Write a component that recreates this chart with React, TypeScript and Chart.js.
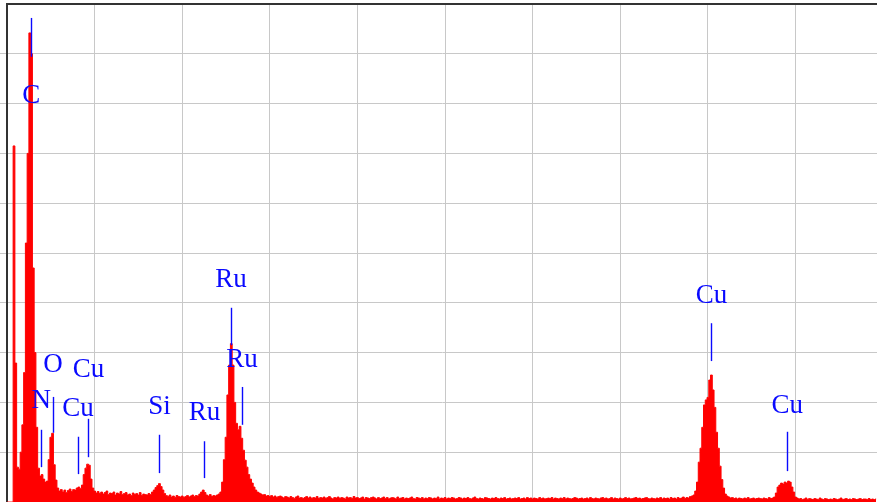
import React, { useEffect, useRef } from 'react';
import { Chart, registerables } from 'chart.js';

Chart.register(...registerables);

// EDS spectrum: counts per 0.02 keV channel, starting at 0 keV
const CHANNEL_KEV = 0.02;
const counts: number[] = [
  0, 0, 0, 0, 715, 279, 70, 66, 100, 155,
  260, 520, 700, 942, 900, 470, 300, 150, 68, 52,
  55, 46, 40, 42, 85, 130, 138, 75, 44, 28,
  22, 25, 20, 24, 19, 23, 26, 21, 25, 24,
  28, 30, 27, 34, 55, 68, 76, 74, 46, 28,
  22, 18, 21, 17, 20, 16, 19, 22, 15, 18,
  17, 20, 14, 18, 16, 21, 15, 17, 19, 14,
  16, 13, 18, 15, 17, 14, 19, 13, 16, 15,
  14, 17, 15, 20, 24, 29, 33, 37, 31, 24,
  17, 13, 11, 14, 10, 12, 9, 13, 11, 10,
  12, 9, 11, 13, 10, 12, 14, 11, 13, 12,
  16, 20, 24, 19, 14, 12, 15, 11, 13, 12,
  14, 16, 20, 40, 85, 130, 215, 275, 318, 275,
  200, 158, 145, 152, 128, 104, 84, 70, 55, 46,
  38, 30, 24, 20, 18, 16, 14, 15, 12, 13,
  11, 13, 10, 12, 9, 11, 12, 10, 8, 11,
  10, 8, 11, 9, 7, 10, 12, 8, 9, 7,
  9, 11, 8, 10, 7, 9, 8, 11, 7, 9,
  8, 10, 7, 9, 11, 8, 6, 9, 8, 10,
  7, 9, 8, 6, 10, 8, 9, 7, 11, 8,
  9, 7, 8, 10, 6, 9, 8, 7, 9, 10,
  8, 6, 9, 7, 8, 10, 7, 9, 6, 8,
  9, 8, 6, 10, 7, 8, 9, 6, 8, 7,
  8, 10, 7, 6, 9, 8, 7, 9, 6, 8,
  7, 9, 8, 6, 8, 7, 10, 6, 8, 7,
  9, 6, 8, 7, 9, 8, 6, 7, 9, 8,
  6, 8, 7, 9, 7, 6, 8, 10, 7, 6,
  8, 7, 6, 9, 8, 7, 6, 8, 7, 9,
  7, 6, 8, 7, 9, 6, 7, 8, 6, 7,
  8, 7, 9, 6, 7, 8, 6, 9, 7, 8,
  6, 8, 7, 6, 9, 7, 8, 6, 7, 8,
  7, 9, 6, 8, 7, 6, 8, 7, 9, 6,
  8, 7, 6, 7, 9, 8, 6, 7, 8, 6,
  7, 8, 6, 9, 7, 6, 8, 7, 6, 8,
  9, 7, 8, 6, 7, 9, 6, 8, 7, 6,
  8, 6, 7, 9, 7, 8, 6, 7, 8, 9,
  7, 8, 6, 7, 8, 9, 7, 6, 8, 7,
  6, 8, 7, 9, 6, 8, 7, 8, 6, 9,
  7, 8, 6, 9, 7, 8, 10, 7, 9, 8,
  11, 12, 14, 22, 40, 80, 108, 150, 195, 205,
  210, 245, 255, 225, 190, 140, 108, 72, 45, 28,
  16, 12, 10, 8, 9, 7, 8, 6, 8, 7,
  6, 8, 7, 9, 6, 7, 8, 6, 7, 8,
  7, 6, 8, 7, 6, 9, 7, 8, 10, 18,
  30, 34, 38, 36, 40, 38, 42, 40, 30, 20,
  10, 8, 6, 7, 5, 6, 8, 5, 7, 6,
  5, 7, 6, 5, 8, 6, 5, 7, 6, 5,
  6, 5, 7, 6, 5, 6, 8, 5, 6, 7,
  5, 6, 5, 7, 6, 5, 6, 7, 5, 6,
  6, 5, 7, 5, 6, 5, 6,
];

// Axis ranges
const X_MIN_KEV = 0;
const X_MAX_KEV = 9.93;
const X_STEP_KEV = 1;
const Y_MIN = 0;
const Y_MAX = 1000;
const Y_STEP = 100;

// Peak markers (element labels)
const markerLabels = ['C', 'N', 'O', 'Cu', 'Cu', 'Si', 'Ru', 'Ru', 'Ru', 'Cu', 'Cu'];
const markerKeV = [0.277, 0.392, 0.525, 0.811, 0.93, 1.74, 2.253, 2.558, 2.683, 8.04, 8.905];
const markerTop = [972, 145, 211, 131, 167, 135, 122, 390, 231, 359, 141];
const markerBottom = [894, 70, 139, 56, 90, 58, 48, 315, 155, 283, 62];
const labelLevel = [801, 189, 261, 173, 251, 177, 165, 432, 271, 400, 179];

const BLUE = '#0a0aff';
const RED = '#ff0000';
const GRID = '#c8c8c8';
const FRAME = '#333333';

const markerPlugin = {
  id: 'peakMarkers',
  afterDatasetsDraw(chart: any) {
    const { ctx, scales } = chart;
    const xs = scales.x;
    const ys = scales.y;
    ctx.save();
    ctx.strokeStyle = BLUE;
    ctx.fillStyle = BLUE;
    ctx.lineWidth = 1.4;
    ctx.font = '27px "Liberation Serif", "Times New Roman", serif';
    ctx.textAlign = 'center';
    ctx.textBaseline = 'alphabetic';
    markerLabels.forEach((lab, i) => {
      const xp = xs.getPixelForValue(markerKeV[i]);
      const lx = Math.round(xp) + 0.5;
      ctx.beginPath();
      ctx.moveTo(lx, ys.getPixelForValue(markerTop[i]));
      ctx.lineTo(lx, ys.getPixelForValue(markerBottom[i]));
      ctx.stroke();
      ctx.fillText(lab, xp, ys.getPixelForValue(labelLevel[i]));
    });
    ctx.restore();
  },
};

export default function App() {
  const ref = useRef<HTMLCanvasElement>(null);

  useEffect(() => {
    if (!ref.current) return;
    const points = counts.map((c, i) => ({ x: i * CHANNEL_KEV, y: c }));
    const chart = new Chart(ref.current, {
      type: 'line',
      data: {
        datasets: [
          {
            data: points,
            borderColor: RED,
            backgroundColor: RED,
            borderWidth: 1,
            pointRadius: 0,
            fill: 'origin',
            stepped: 'middle',
            tension: 0,
          },
        ],
      },
      options: {
        animation: false,
        responsive: true,
        maintainAspectRatio: false,
        layout: { padding: { top: 4, left: 0, right: 0, bottom: 0 }, autoPadding: false },
        plugins: { legend: { display: false }, tooltip: { enabled: false } },
        scales: {
          x: {
            type: 'linear',
            min: X_MIN_KEV,
            max: X_MAX_KEV,
            ticks: { display: false, stepSize: X_STEP_KEV, includeBounds: false },
            grid: { color: GRID, lineWidth: 1, drawTicks: false },
            border: { display: false },
          },
          y: {
            type: 'linear',
            min: Y_MIN,
            max: Y_MAX,
            ticks: { display: false, stepSize: Y_STEP },
            grid: {
              drawTicks: true,
              tickLength: 7,
              color: (c: any) => (c.tick && c.tick.value === Y_MAX ? FRAME : GRID),
              lineWidth: (c: any) => (c.tick && c.tick.value === Y_MAX ? 2 : 1),
              tickColor: (c: any) => (c.tick && c.tick.value === Y_MAX ? 'rgba(0,0,0,0)' : GRID),
            },
            border: { display: true, color: FRAME, width: 2 },
          },
        },
      },
      plugins: [markerPlugin],
    });
    return () => chart.destroy();
  }, []);

  return (
    <div
      style={{
        position: 'fixed',
        left: 0,
        top: 0,
        width: 877,
        height: 502,
        background: '#ffffff',
      }}
    >
      <canvas ref={ref} />
    </div>
  );
}
